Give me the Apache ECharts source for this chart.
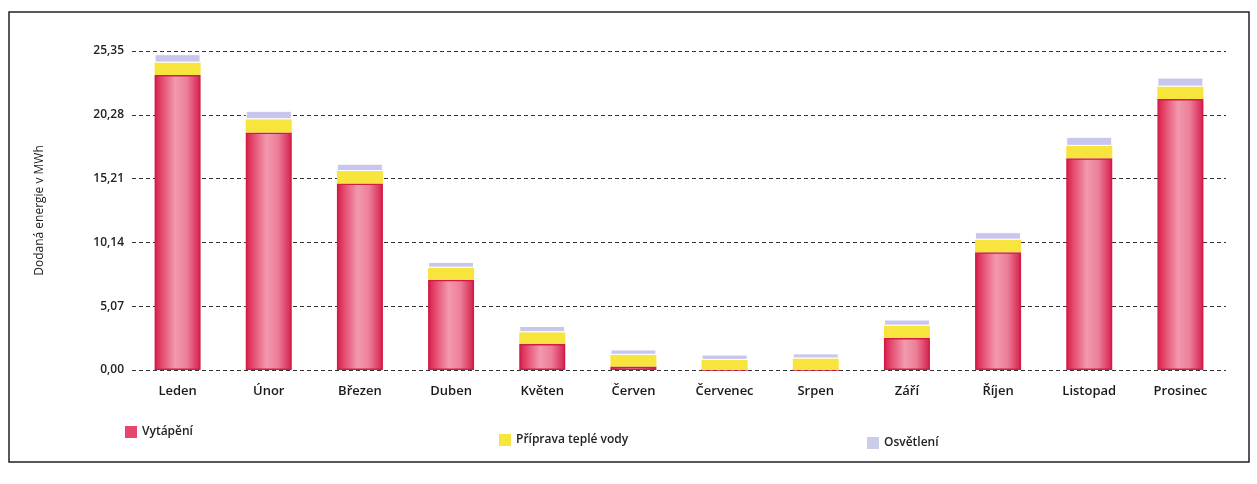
<!DOCTYPE html>
<html>
<head>
<meta charset="utf-8">
<script src="https://cdn.jsdelivr.net/npm/echarts@6/dist/echarts.min.js"></script>
<style>
  html, body { margin: 0; padding: 0; background: #fff; }
  #chart { width: 1257px; height: 484px; }
</style>
</head>
<body>
<div id="chart"></div>
<script>
// months on the x axis
const months = ['Leden', 'Únor', 'Březen', 'Duben', 'Květen', 'Červen',
    'Červenec', 'Srpen', 'Září', 'Říjen', 'Listopad', 'Prosinec'];

// delivered energy in MWh
const heating = [23.45, 18.87, 14.83, 7.18, 2.07, 0.28, 0, 0, 2.55, 9.36, 16.83, 21.53];
const hotWater = [0.98, 1.06, 0.98, 0.96, 0.93, 0.93, 0.8, 0.92, 0.98, 1.0, 0.98, 0.99];
const lighting = [0.67, 0.67, 0.58, 0.45, 0.5, 0.42, 0.43, 0.4, 0.48, 0.59, 0.72, 0.72];

// y axis ticks
const yMax = 25.35;
const yStep = 5.07;

const seriesNames = ['Vytápění', 'Příprava teplé vody', 'Osvětlení'];

const textFont = "'Open Sans', 'Noto Sans', sans-serif";

let chart = echarts.init(document.getElementById('chart'));

let redFill = new echarts.graphic.LinearGradient(0, 0, 1, 0, [
    { offset: 0, color: '#d41c49' },
    { offset: 0.15, color: '#e4486c' },
    { offset: 0.45, color: '#f299ae' },
    { offset: 0.7, color: '#ec7f98' },
    { offset: 1, color: '#d61e4c' }
]);

let legendText = { fontFamily: textFont, fontSize: 12, fontWeight: 600, color: '#222' };

let option = {
    backgroundColor: '#ffffff',
    animation: false,
    graphic: [
        {
            type: 'rect',
            shape: { x: 9, y: 12, width: 1240, height: 450 },
            style: { fill: 'none', stroke: '#222', lineWidth: 1.5 },
            silent: true
        }
    ],
    grid: {
        left: 132,
        right: 31,
        top: 51,
        bottom: 114
    },
    legend: [
        {
            data: [seriesNames[0]],
            left: 120, top: 421,
            itemWidth: 12, itemHeight: 12, icon: 'rect',
            itemStyle: { color: '#e8456d', borderWidth: 0 },
            textStyle: legendText
        },
        {
            data: [seriesNames[1]],
            left: 494, top: 429,
            itemWidth: 12, itemHeight: 12, icon: 'rect',
            textStyle: legendText
        },
        {
            data: [seriesNames[2]],
            left: 862, top: 432,
            itemWidth: 12, itemHeight: 12, icon: 'rect',
            itemStyle: { color: '#c9cdea', borderWidth: 0 },
            textStyle: legendText
        }
    ],
    xAxis: {
        type: 'category',
        data: months,
        axisLine: { show: false },
        axisTick: { show: false },
        axisLabel: {
            margin: 15,
            fontFamily: textFont,
            fontSize: 13,
            fontWeight: 600,
            color: '#1a1a1a'
        }
    },
    yAxis: {
        type: 'value',
        min: 0,
        max: yMax,
        interval: yStep,
        name: 'Dodaná energie v MWh',
        nameLocation: 'middle',
        nameGap: 86,
        nameTextStyle: { fontFamily: textFont, fontSize: 12, fontWeight: 500, color: '#1a1a1a' },
        axisLine: { show: false },
        axisTick: { show: false },
        axisLabel: {
            margin: 8,
            fontFamily: textFont,
            fontSize: 12,
            fontWeight: 600,
            color: '#222',
            formatter: v => v.toFixed(2).replace('.', ',')
        },
        splitLine: {
            show: true,
            lineStyle: { color: '#333', width: 1, type: [4, 3] }
        }
    },
    series: [
        {
            name: seriesNames[0],
            type: 'bar',
            stack: 'energy',
            barWidth: 46,
            data: heating,
            itemStyle: { color: redFill, borderColor: '#d01c47', borderWidth: 1.5 }
        },
        {
            name: seriesNames[1],
            type: 'bar',
            stack: 'energy',
            barWidth: 46,
            data: hotWater,
            itemStyle: { color: '#f7e43c' }
        },
        {
            name: seriesNames[2],
            type: 'bar',
            stack: 'energy',
            barWidth: 46,
            data: lighting,
            itemStyle: { color: '#c8c5ee', borderColor: '#ffffff', borderWidth: 1 }
        }
    ]
};

chart.setOption(option);
</script>
</body>
</html>
